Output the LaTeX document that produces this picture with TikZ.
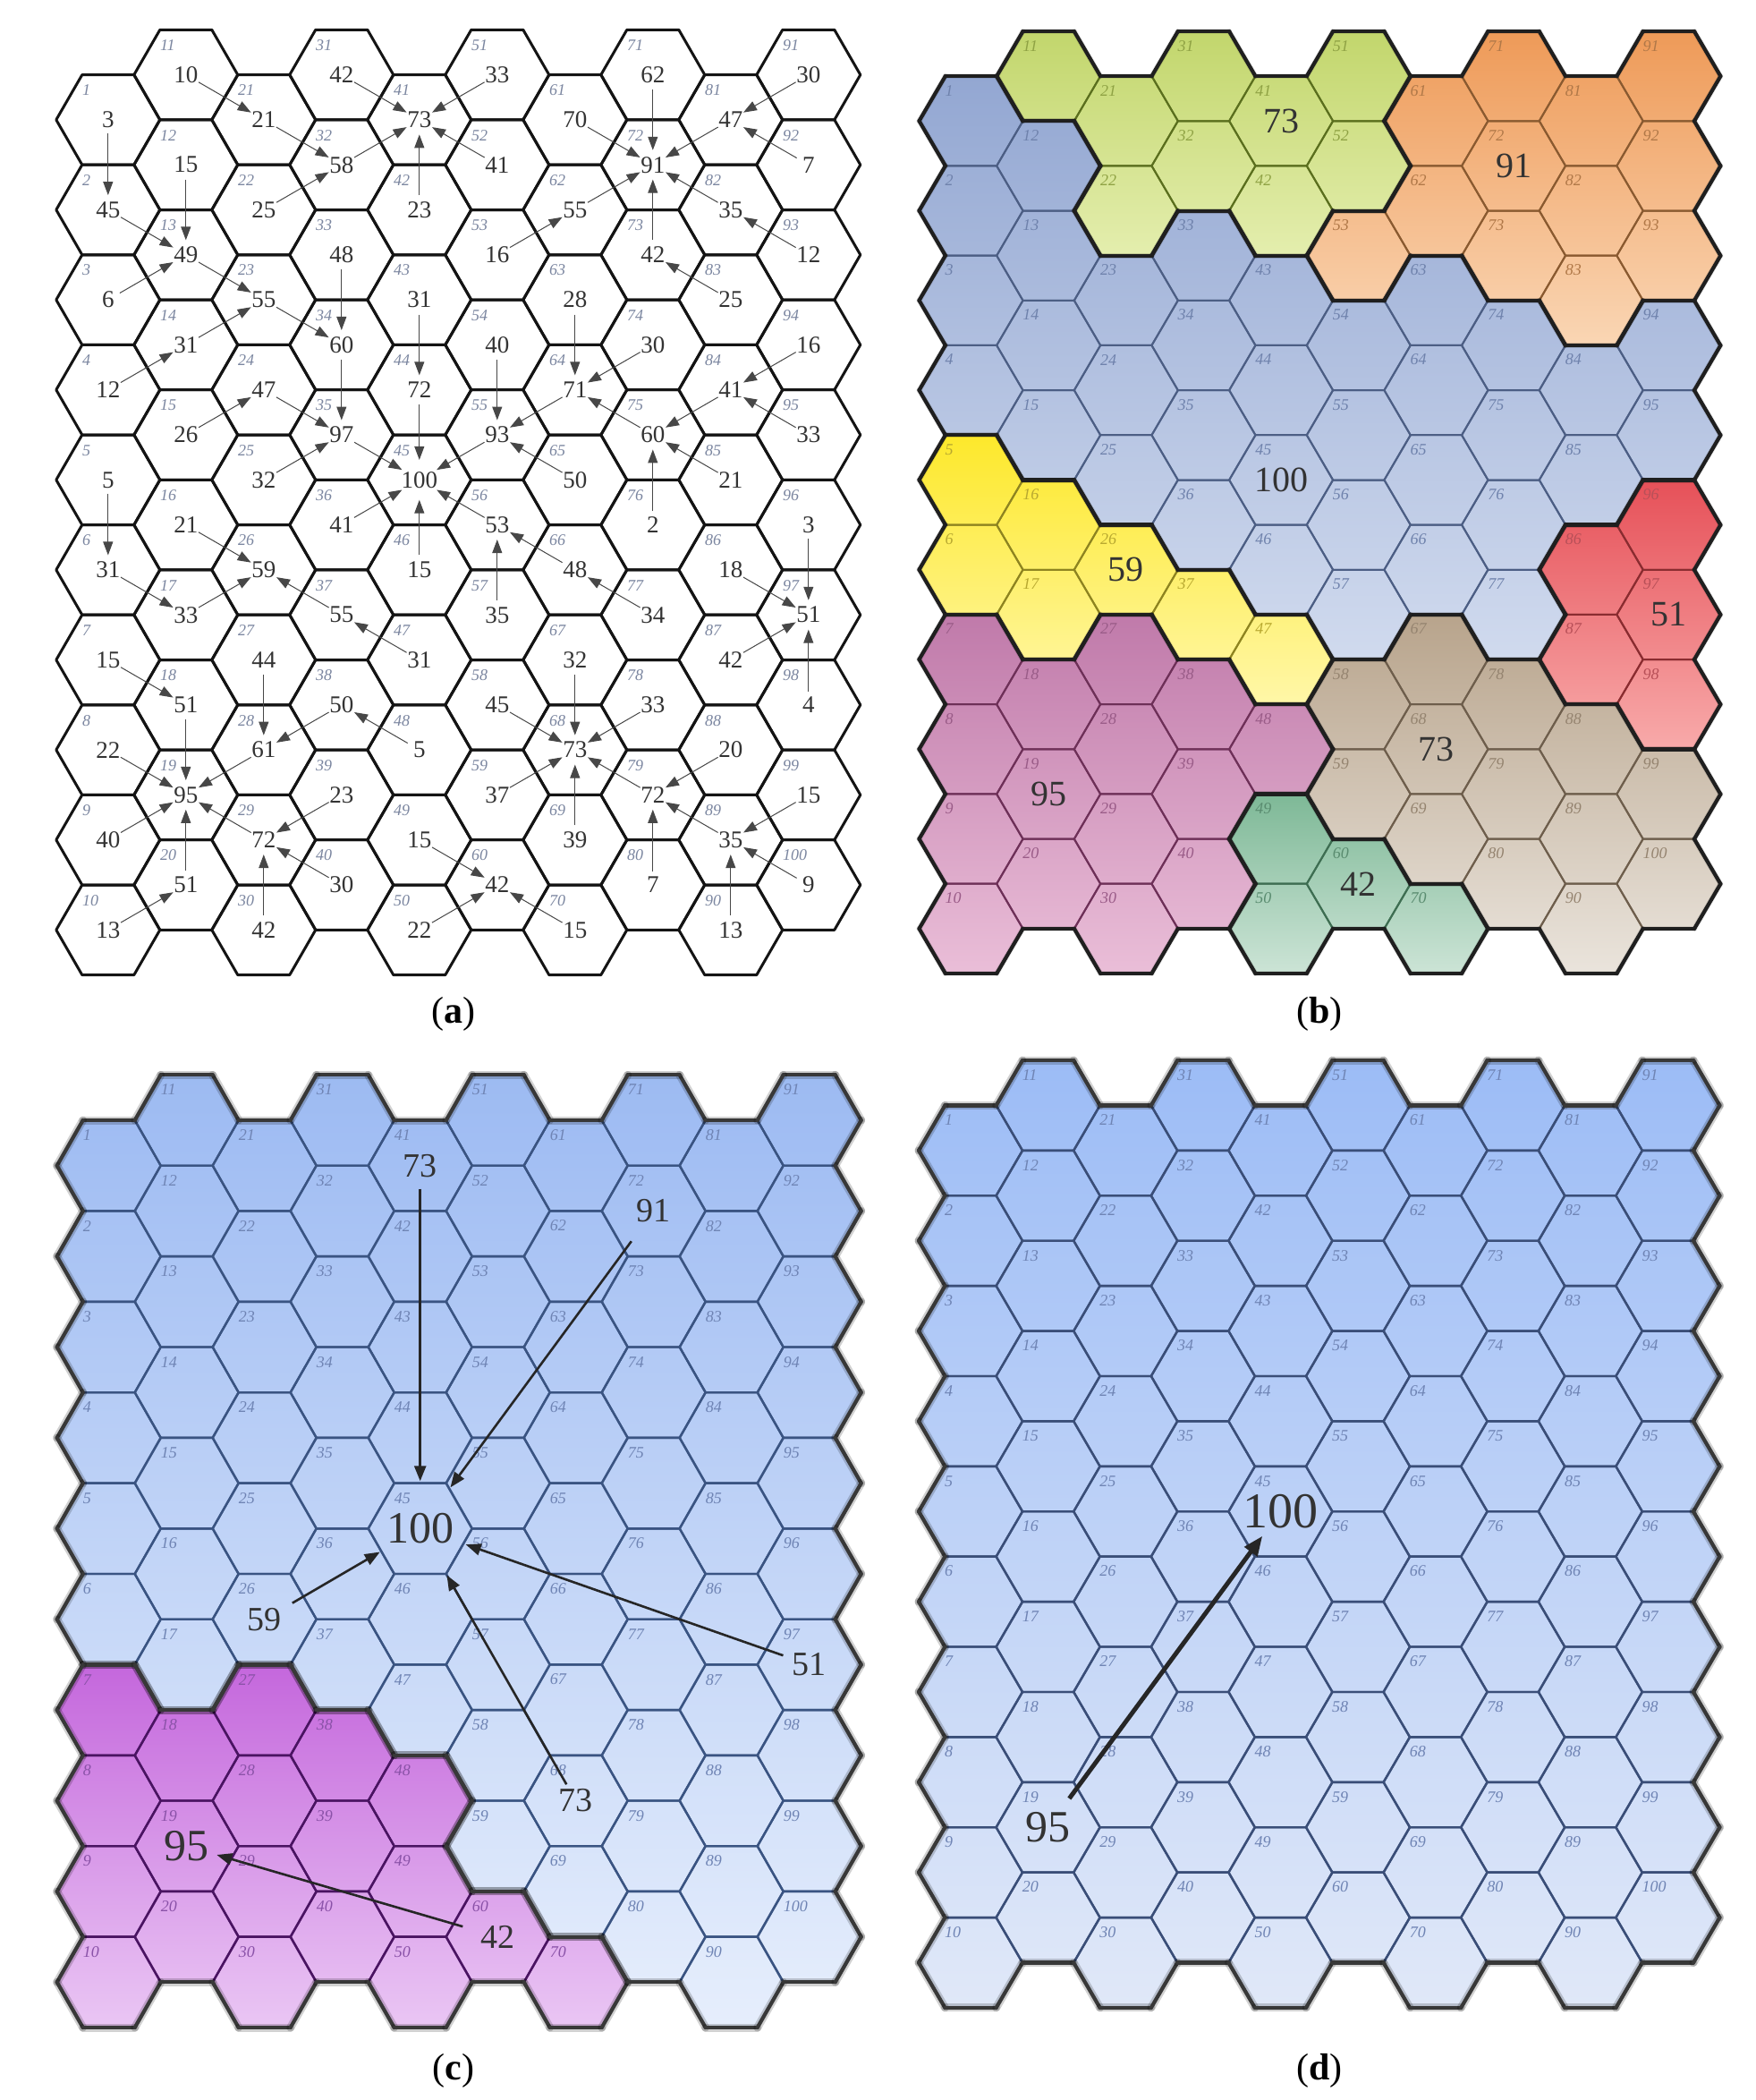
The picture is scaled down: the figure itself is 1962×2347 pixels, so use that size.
\documentclass[tikz,border=0pt]{standalone}
\usepackage{fontspec}
\setmainfont{Liberation Serif}
\usetikzlibrary{arrows.meta}
\newcommand\fs[1]{\fontsize{#1}{#1}\selectfont}
% ---------- data ----------
\def\ValA{{0,%
3,45,6,12,5,31,15,22,40,13,%
10,15,49,31,26,21,33,51,95,51,%
21,25,55,47,32,59,44,61,72,42,%
42,58,48,60,97,41,55,50,23,30,%
73,23,31,72,100,15,31,5,15,22,%
33,41,16,40,93,53,35,45,37,42,%
70,55,28,71,50,48,32,73,39,15,%
62,91,42,30,60,2,34,33,72,7,%
47,35,25,41,21,18,42,20,35,13,%
30,7,12,16,33,3,51,4,15,9}}
\def\TgtA{{0,%
2,13,13,14,6,17,18,19,19,20,%
21,13,23,23,24,26,26,19,0,19,%
32,32,34,35,35,0,28,19,19,29,%
41,41,34,35,45,45,26,28,29,29,%
0,41,44,45,0,45,37,38,60,60,%
41,41,62,55,45,45,56,68,68,0,%
72,72,64,55,55,56,68,0,68,60,%
72,0,72,64,64,75,66,68,68,79,%
72,72,73,75,75,97,97,79,79,89,%
81,81,82,84,84,97,0,97,89,89}}
\def\RegB{{0,%
1,1,1,1,4,4,5,5,5,5,%
2,1,1,1,1,4,4,5,5,5,%
2,2,1,1,1,4,5,5,5,5,%
2,2,1,1,1,1,4,5,5,5,%
2,2,1,1,1,1,4,5,6,6,%
2,2,3,1,1,1,1,7,7,6,%
3,3,1,1,1,1,7,7,7,6,%
3,3,3,1,1,1,1,7,7,7,%
3,3,3,1,1,8,8,7,7,7,%
3,3,3,1,1,8,8,8,7,7}}
\def\RegC{{0,%
1,1,1,1,1,1,2,2,2,2,%
1,1,1,1,1,1,1,2,2,2,%
1,1,1,1,1,1,2,2,2,2,%
1,1,1,1,1,1,1,2,2,2,%
1,1,1,1,1,1,1,2,2,2,%
1,1,1,1,1,1,1,1,1,2,%
1,1,1,1,1,1,1,1,1,2,%
1,1,1,1,1,1,1,1,1,1,%
1,1,1,1,1,1,1,1,1,1,%
1,1,1,1,1,1,1,1,1,1}}
\def\RegD{{0,%
1,1,1,1,1,1,1,1,1,1,%
1,1,1,1,1,1,1,1,1,1,%
1,1,1,1,1,1,1,1,1,1,%
1,1,1,1,1,1,1,1,1,1,%
1,1,1,1,1,1,1,1,1,1,%
1,1,1,1,1,1,1,1,1,1,%
1,1,1,1,1,1,1,1,1,1,%
1,1,1,1,1,1,1,1,1,1,%
1,1,1,1,1,1,1,1,1,1,%
1,1,1,1,1,1,1,1,1,1}}
\def\GaB{{0,85,35,35,486,687,887,687,536}}
\def\GbB{{0,737,286,386,787,1088,1088,1088,837}}
\def\GaC{{0,1201,1860}}
\def\GbC{{0,2266,2266}}
\def\GaD{{0,1185}}
\def\GbD{{0,2245}}
% ---------- colours ----------
\definecolor{idxA}{HTML}{7B86A0}
\definecolor{B1t}{HTML}{93A7D2}\definecolor{B1b}{HTML}{D0DAEE}\definecolor{B1e}{HTML}{4C5E84}\definecolor{B1i}{HTML}{6F82AC}
\definecolor{B2t}{HTML}{C2D66C}\definecolor{B2b}{HTML}{E4EEAE}\definecolor{B2e}{HTML}{5B6F1E}\definecolor{B2i}{HTML}{8FA244}
\definecolor{B3t}{HTML}{EE9A58}\definecolor{B3b}{HTML}{FAD6B4}\definecolor{B3e}{HTML}{8A5A30}\definecolor{B3i}{HTML}{B07848}
\definecolor{B4t}{HTML}{FDE82A}\definecolor{B4b}{HTML}{FFF7A8}\definecolor{B4e}{HTML}{8E8420}\definecolor{B4i}{HTML}{B8A830}
\definecolor{B5t}{HTML}{C07AAA}\definecolor{B5b}{HTML}{EABED8}\definecolor{B5e}{HTML}{6E3058}\definecolor{B5i}{HTML}{9A5C88}
\definecolor{B6t}{HTML}{7DB896}\definecolor{B6b}{HTML}{CCE4D6}\definecolor{B6e}{HTML}{3E6E52}\definecolor{B6i}{HTML}{5A8C70}
\definecolor{B7t}{HTML}{B8A48C}\definecolor{B7b}{HTML}{EAE4DC}\definecolor{B7e}{HTML}{6E5E4C}\definecolor{B7i}{HTML}{958470}
\definecolor{B8t}{HTML}{E65058}\definecolor{B8b}{HTML}{F8AAAA}\definecolor{B8e}{HTML}{8A2C30}\definecolor{B8i}{HTML}{B85058}
\definecolor{C1t}{HTML}{9CBAF2}\definecolor{C1b}{HTML}{E6EEFC}\definecolor{C1e}{HTML}{3A5482}\definecolor{C1i}{HTML}{6F84B4}
\definecolor{C2t}{HTML}{C466DC}\definecolor{C2b}{HTML}{EAC6F4}\definecolor{C2e}{HTML}{4A1462}\definecolor{C2i}{HTML}{8A52A8}
\definecolor{D1t}{HTML}{9CBCF6}\definecolor{D1b}{HTML}{E0E8F8}\definecolor{D1e}{HTML}{3A4E78}\definecolor{D1i}{HTML}{6F84B4}
% ---------- helpers ----------
\newcommand\setgeom[7]{\def\PXo{#1}\def\PDx{#2}\def\PYo{#3}\def\PYe{#4}\def\PH{#5}\def\PA{#6}\def\PW{#7}}
\newcommand\cellcalc{%
  \pgfmathtruncatemacro\n{(\ci-1)*10+\ri}%
  \pgfmathsetmacro\cx{\PXo+(\ci-1)*\PDx}%
  \ifodd\ci\relax
    \pgfmathsetmacro\cy{\PYo+(\ri-0.5)*\PH}\def\qq{0}%
  \else
    \pgfmathsetmacro\cy{\PYe+(\ri-0.5)*\PH}\def\qq{-1}%
  \fi
  \coordinate (v0) at (\cx+\PA,\cy);
  \coordinate (v1) at (\cx+\PW,\cy-\PH/2);
  \coordinate (v2) at (\cx-\PW,\cy-\PH/2);
  \coordinate (v3) at (\cx-\PA,\cy);
  \coordinate (v4) at (\cx-\PW,\cy+\PH/2);
  \coordinate (v5) at (\cx+\PW,\cy+\PH/2);
}
\newcommand\cellpos[1]{%
  \pgfmathtruncatemacro\ci{floor((#1-1)/10)+1}%
  \pgfmathtruncatemacro\ri{#1-(\ci-1)*10}%
  \cellcalc}
\newcommand\nbreg[3]{%
  \def#3{-1}%
  \ifnum#1>0 \ifnum#1<11 \ifnum#2>0 \ifnum#2<11
    \pgfmathtruncatemacro#3{\PReg[(#1-1)*10+#2]}%
  \fi\fi\fi\fi}
\newcommand\regionpanel{%
 \foreach \ci in {1,...,10}{\foreach \ri in {1,...,10}{\cellcalc
   \pgfmathtruncatemacro\rc{\PReg[\n]}%
   \pgfmathsetmacro\ga{\PGa[\rc]}\pgfmathsetmacro\gb{\PGb[\rc]}%
   \pgfmathtruncatemacro\ptop{max(0,min(100,100*((\gb-\cy+\PH/2)/(\gb-\ga))))}%
   \pgfmathtruncatemacro\pbot{max(0,min(100,100*((\gb-\cy-\PH/2)/(\gb-\ga))))}%
   \colorlet{cT}{\PN\rc t!\ptop!\PN\rc b}\colorlet{cB}{\PN\rc t!\pbot!\PN\rc b}%
   \shade[top color=cT,bottom color=cB] (v0)--(v1)--(v2)--(v3)--(v4)--(v5)--cycle;}}%
 \foreach \ci in {1,...,10}{\foreach \ri in {1,...,10}{\cellcalc
   \pgfmathtruncatemacro\rc{\PReg[\n]}%
   \colorlet{cE}{\PN\rc e}\colorlet{cI}{\PN\rc i}%
   \draw[line width=\PThin,draw=cE,line join=round] (v0)--(v1)--(v2)--(v3)--(v4)--(v5)--cycle;
   \node[idx,text=cI] (\PN i\n) at (\cx-29,\cy-34) {\n};}}%
 \foreach \ci in {1,...,10}{\foreach \ri in {1,...,10}{\cellcalc
   \pgfmathtruncatemacro\rc{\PReg[\n]}%
   \pgfmathtruncatemacro\cp{\ci+1}\pgfmathtruncatemacro\cm{\ci-1}%
   \pgfmathtruncatemacro\ru{\ri+(\qq)}\pgfmathtruncatemacro\rd{\ri+(\qq)+1}%
   \pgfmathtruncatemacro\rt{\ri-1}\pgfmathtruncatemacro\rb{\ri+1}%
   \nbreg\cp\ru\nA \nbreg\ci\rt\nB \nbreg\cm\ru\nC
   \nbreg\cm\rd\nD \nbreg\ci\rb\nE \nbreg\cp\rd\nF
   \ifnum\nA=\rc\relax\else\draw[bnd] (v0)--(v1);\fi
   \ifnum\nB=\rc\relax\else\draw[bnd] (v1)--(v2);\fi
   \ifnum\nC=\rc\relax\else\draw[bnd] (v2)--(v3);\fi
   \ifnum\nD=\rc\relax\else\draw[bnd] (v3)--(v4);\fi
   \ifnum\nE=\rc\relax\else\draw[bnd] (v4)--(v5);\fi
   \ifnum\nF=\rc\relax\else\draw[bnd] (v5)--(v0);\fi
 }}}
\begin{document}
\begin{tikzpicture}[x=1pt,y=-1pt,
  hexA/.style={draw=black!92,line width=3pt,line join=round},
  idx/.style={font=\fs{18}\itshape,inner sep=0pt,anchor=west},
  valA/.style={circle,inner sep=0pt,minimum size=30pt,font=\fs{27},text=black!80},
  arrA/.style={draw=black!72,line width=1pt,-{Triangle[length=15pt,width=11pt]}},
  bnd/.style={line width=\PThick,draw=\PBnd,line cap=round,
    preaction={draw=black,line width=\PHaloW,draw opacity=\PHaloO,line cap=round}},
  valB/.style={inner sep=0pt,font=\fs{40},text=black!80},
  arrC/.style={draw=black!85,line width=2.6pt,-{Triangle[length=17pt,width=13pt]}},
  plab/.style={inner sep=0pt,font=\fs{42}}]
\fill[white] (0,0) rectangle (1962,2347);
\path[use as bounding box] (0,0) rectangle (1962,2347);
% ================= panel (a) =================
\setgeom{120.8}{87}{83.6}{33.3}{100.6}{58}{29}
\foreach \ci in {1,...,10}{\foreach \ri in {1,...,10}{\cellcalc
  \draw[hexA] (v0)--(v1)--(v2)--(v3)--(v4)--(v5)--cycle;}}
\foreach \ci in {1,...,10}{\foreach \ri in {1,...,10}{\cellcalc
  \node[idx,text=idxA] (ai\n) at (\cx-29,\cy-33) {\n};
  \pgfmathtruncatemacro\vv{\ValA[\n]}%
  \node[valA] (a\n) at (\cx,\cy) {\vv};}}
\foreach \m in {1,...,100}{\pgfmathtruncatemacro\tgt{\TgtA[\m]}%
  \ifnum\tgt>0 \draw[arrA] (a\m) -- (a\tgt);\fi}
\node[plab] (labA) at (507,1133) {(\textbf{a})};
% ================= panel (b) =================
\setgeom{1085.5}{86.65}{85}{35}{100.3}{58}{28.65}
\def\PReg{\RegB}\def\PGa{\GaB}\def\PGb{\GbB}\def\PN{B}
\def\PThin{2pt}\def\PThick{4.2pt}\def\PBnd{black!88}
\def\PHaloW{6pt}\def\PHaloO{0.08}
\regionpanel
\foreach \m/\v in {41/73,72/91,45/100,26/59,97/51,19/95,68/73,60/42}{%
  \cellpos{\m}\node[valB] (bv\m) at (\cx,\cy) {\v};}
\node[plab] (labB) at (1475,1133) {(\textbf{b})};
% ================= panel (c) =================
\setgeom{121.7}{87}{1252}{1201.3}{101.4}{58}{29}
\def\PReg{\RegC}\def\PGa{\GaC}\def\PGb{\GbC}\def\PN{C}
\def\PThin{2.4pt}\def\PThick{4.2pt}\def\PBnd{black!78}
\def\PHaloW{9pt}\def\PHaloO{0.18}
\regionpanel
\foreach \m/\v/\s in {41/73/38,72/91/38,45/100/50,26/59/38,97/51/38,68/73/38,19/95/50,60/42/38}{%
  \cellpos{\m}\node[inner sep=0pt,font=\fs{\s},text=black!80] (cv\m) at (\cx,\cy) {\v};}
\draw[arrC,shorten <=26pt,shorten >=53pt] (cv41.center) -- (cv45.center);
\draw[arrC,shorten <=42pt,shorten >=57pt] (cv72.center) -- (cv45.center);
\draw[arrC,shorten <=36pt,shorten >=52pt] (cv26.center) -- (cv45.center);
\draw[arrC,shorten <=31pt,shorten >=54pt] (cv97.center) -- (cv45.center);
\draw[arrC,shorten <=21pt,shorten >=60pt] (cv68.center) -- (cv45.center);
\draw[arrC,shorten <=41pt,shorten >=35pt] (cv60.center) -- (cv19.center);
\node[plab] (labC) at (507,2314) {(\textbf{c})};
% ================= panel (d) =================
\setgeom{1085}{86.6}{1235.4}{1185}{100.85}{58}{28.6}
\def\PReg{\RegD}\def\PGa{\GaD}\def\PGb{\GbD}\def\PN{D}
\def\PThin{2.4pt}\def\PThick{4.2pt}\def\PBnd{black!78}
\def\PHaloW{9pt}\def\PHaloO{0.18}
\regionpanel
\cellpos{19}\node[inner sep=0pt,font=\fs{50},text=black!80] (dv19) at (\cx,\cy) {95};
\cellpos{45}\node[inner sep=0pt,font=\fs{56},text=black!80] (dv45) at (\cx,\cy) {100};
\draw[draw=black!85,line width=5pt,-{Triangle[length=22pt,width=17pt]},shorten <=40pt,shorten >=34pt] (dv19.center) -- (dv45.center);
\node[plab] (labD) at (1475,2314) {(\textbf{d})};
\end{tikzpicture}
\end{document}
